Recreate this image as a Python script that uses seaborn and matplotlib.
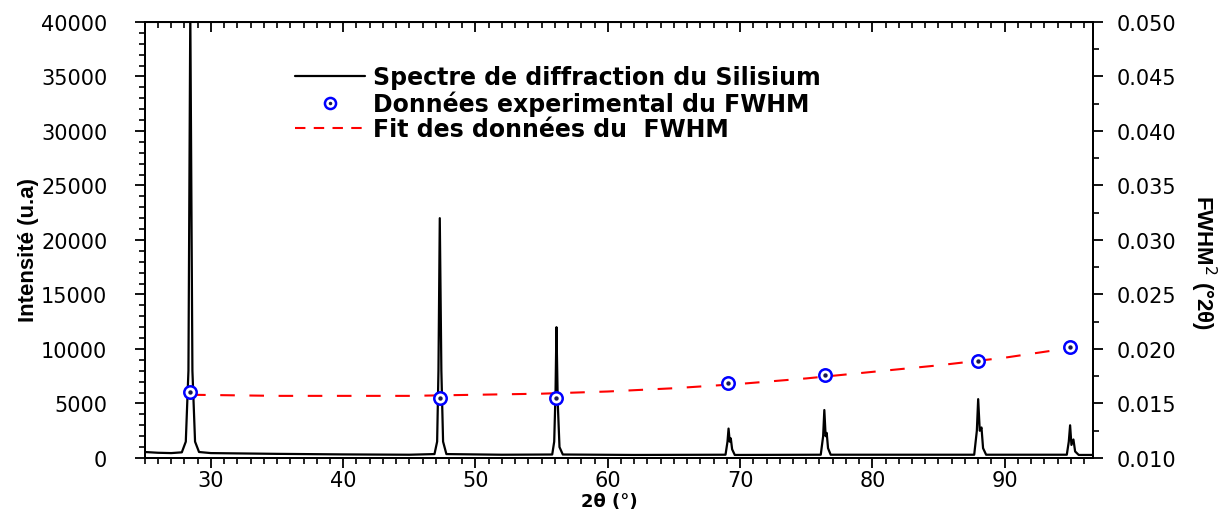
import matplotlib
matplotlib.use("Agg")
import matplotlib.pyplot as plt
from matplotlib.ticker import MultipleLocator
from matplotlib.lines import Line2D
from matplotlib.legend_handler import HandlerTuple
import seaborn as sns
import pandas as pd

# spectre DRX du silicium
two_theta = [25.0, 26.0, 27.0, 27.8, 28.1, 28.3, 28.44, 28.6, 28.8, 29.1, 30.0, 35.0, 40.0, 45.0,
             46.9, 47.1, 47.2, 47.3, 47.42, 47.55, 47.8, 52.0,
             55.8, 55.95, 56.05, 56.12, 56.22, 56.35, 56.6, 62.0,
             68.9, 69.05, 69.13, 69.22, 69.3, 69.4, 69.6,
             76.1, 76.28, 76.37, 76.47, 76.55, 76.65, 76.85,
             87.7, 87.9, 88.0, 88.12, 88.25, 88.37, 88.6,
             94.7, 94.85, 94.95, 95.05, 95.2, 95.33, 95.6, 96.7]
intensity = [550, 480, 450, 520, 1500, 8000, 41000, 8000, 1500, 550, 450, 380, 330, 300,
             360, 1500, 8000, 22000, 8000, 1500, 360, 300,
             320, 1500, 6000, 12000, 5000, 1000, 320, 280,
             300, 1500, 2700, 1500, 1800, 800, 280,
             300, 2000, 4400, 2000, 2300, 900, 300,
             300, 2500, 5400, 2500, 2800, 900, 300,
             300, 1500, 3000, 1200, 1700, 600, 280, 280]

# FWHM^2 experimental
fwhm_x = [28.45, 47.3, 56.1, 69.1, 76.4, 88.0, 94.95]
fwhm_y = [0.0161, 0.0155, 0.0155, 0.0169, 0.0176, 0.0189, 0.0202]

# courbe de fit
fit_x = [28.5, 35, 40, 45, 50, 55, 60, 65, 70, 75, 80, 85, 90, 95]
fit_y = [0.0158, 0.0157, 0.0157, 0.0157, 0.0158, 0.0159, 0.0161, 0.0164, 0.0168,
         0.0173, 0.0179, 0.0185, 0.0192, 0.0201]

sns.set_style("ticks")
plt.rcParams['font.family'] = ['DejaVu Sans']
plt.rcParams.update({"text.color": "black", "axes.labelcolor": "black",
                     "xtick.color": "black", "ytick.color": "black",
                     "axes.edgecolor": "black"})

spec = pd.DataFrame({"x": two_theta, "y": intensity})
pts = pd.DataFrame({"x": fwhm_x, "y": fwhm_y})
fit = pd.DataFrame({"x": fit_x, "y": fit_y})

fig = plt.figure(figsize=(12.27, 5.10), dpi=100)
ax = fig.add_axes([0.118, 0.10, 0.773, 0.855])
ax2 = ax.twinx()

sns.lineplot(data=spec, x="x", y="y", ax=ax, color="black", lw=1.6, sort=False)
sns.lineplot(data=fit, x="x", y="y", ax=ax2, color="red", lw=1.5, dashes=False)
ax2.lines[-1].set_dashes([7, 7])
sns.scatterplot(data=pts, x="x", y="y", ax=ax2, s=80, facecolor="white",
                edgecolor="blue", linewidth=1.8, zorder=5)
sns.scatterplot(data=pts, x="x", y="y", ax=ax2, s=10, color="#1a1a50", linewidth=0, zorder=6)

ax.set_xlim(25, 96.7)
ax.set_ylim(0, 40000)
ax2.set_ylim(0.010, 0.050)

ax.xaxis.set_major_locator(MultipleLocator(10))
ax.xaxis.set_minor_locator(MultipleLocator(1))
ax.yaxis.set_major_locator(MultipleLocator(5000))
ax.yaxis.set_minor_locator(MultipleLocator(1000))
ax2.yaxis.set_major_locator(MultipleLocator(0.005))
ax2.yaxis.set_minor_locator(MultipleLocator(0.0025))
ax2.yaxis.set_major_formatter(plt.FormatStrFormatter("%.3f"))

ax.tick_params(axis="both", which="major", direction="out", length=7, width=1.3, labelsize=15)
ax.tick_params(axis="both", which="minor", direction="out", length=4, width=1.2)
ax.tick_params(axis="x", which="major", pad=2)
ax.tick_params(axis="y", which="major", pad=20)
ax2.tick_params(axis="y", which="major", direction="out", length=7, width=1.3,
                labelsize=15, pad=10)
ax2.tick_params(axis="y", which="minor", direction="out", length=4, width=1.2)

top = ax.secondary_xaxis("top")
top.xaxis.set_major_locator(MultipleLocator(10))
top.xaxis.set_minor_locator(MultipleLocator(1))
top.xaxis.set_tick_params(which="major", direction="in", length=7, width=1.3, labeltop=False)
top.xaxis.set_tick_params(which="minor", direction="in", length=4, width=1.2)

for a in (ax, ax2):
    for s in a.spines.values():
        s.set_linewidth(1.4)

ax.set_xlabel("2θ (°)", fontsize=13, fontweight="bold")
ax.xaxis.set_label_coords(0.49, -0.077)
ax.set_ylabel("Intensité (u.a)", fontsize=16, fontweight="bold", family="Liberation Sans")
ax.yaxis.set_label_coords(-0.112, 0.48)
ax2.set_ylabel("FWHM$^2$ (°2θ)", fontsize=16, fontweight="bold", rotation=-90,
               family="Liberation Sans")
ax2.yaxis.set_label_coords(1.132, 0.45)

h_line = Line2D([], [], color="black", lw=1.6)
h_circ = Line2D([], [], ls="", marker="o", ms=8, mfc="white", mec="blue", mew=1.8)
h_dot = Line2D([], [], ls="", marker=".", ms=3, color="#1a1a50")
h_fit = Line2D([], [], color="red", lw=1.5, dashes=[5, 4])
ax.legend([h_line, (h_circ, h_dot), h_fit],
          ["Spectre de diffraction du Silisium", "Données experimental du FWHM",
           "Fit des données du  FWHM"],
          handler_map={tuple: HandlerTuple(ndivide=1, pad=0)},
          loc="upper left", bbox_to_anchor=(0.148, 0.922), frameon=False,
          prop={"weight": "bold", "size": 17}, handlelength=3.0, labelspacing=0.05,
          handletextpad=0.3, borderaxespad=0)

fig.savefig("out.png", dpi=100)
